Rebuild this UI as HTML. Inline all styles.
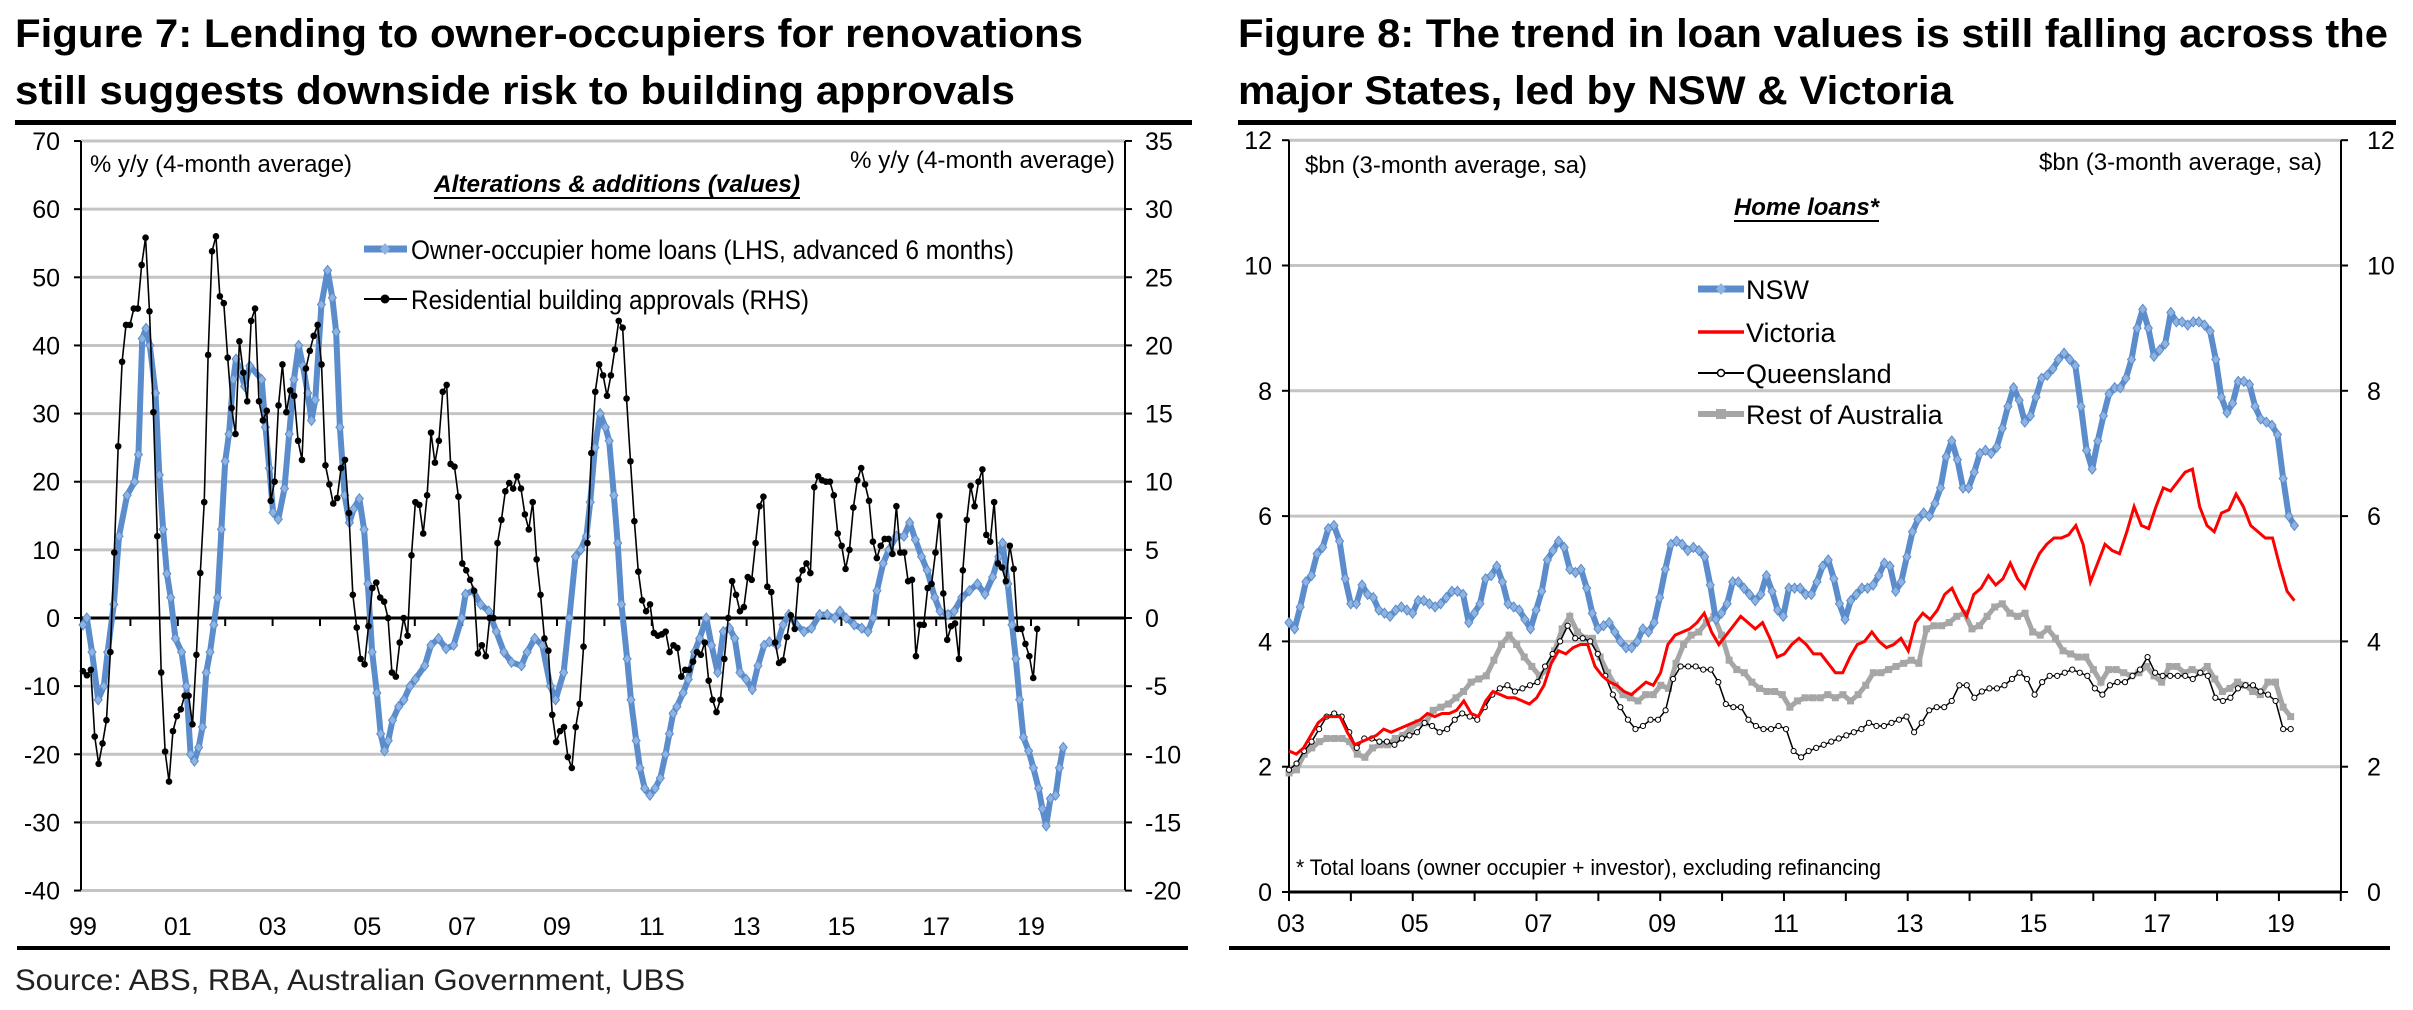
<!DOCTYPE html>
<html><head><meta charset="utf-8"><style>
html,body{margin:0;padding:0;background:#fff;}
svg{display:block;font-family:"Liberation Sans",Arial,sans-serif;}
</style></head><body>
<svg id="root" width="2413" height="1010" viewBox="0 0 2413 1010">
<g font-weight="bold" font-size="40" fill="#000">
<text x="15" y="47" textLength="1068" lengthAdjust="spacingAndGlyphs">Figure 7: Lending to owner-occupiers for renovations</text>
<text x="15" y="104" textLength="1000" lengthAdjust="spacingAndGlyphs">still suggests downside risk to building approvals</text>
<text x="1238" y="47" textLength="1150" lengthAdjust="spacingAndGlyphs">Figure 8: The trend in loan values is still falling across the</text>
<text x="1238" y="104" textLength="715" lengthAdjust="spacingAndGlyphs">major States, led by NSW &amp; Victoria</text>
</g>
<rect x="15" y="120" width="1177" height="5" fill="#000"/>
<rect x="1238" y="120" width="1158" height="5" fill="#000"/>
<rect x="17" y="946" width="1171" height="4" fill="#000"/>
<rect x="1229" y="946" width="1161" height="4" fill="#000"/>
<text x="15" y="990" font-size="30" fill="#222" textLength="670" lengthAdjust="spacingAndGlyphs">Source: ABS, RBA, Australian Government, UBS</text>
<g id="c1"></g>
<g id="c2"></g>
</svg>
<script>
// ---------- Figure 7 data ----------
const f7LeftTicks = [70,60,50,40,30,20,10,0,-10,-20,-30,-40];
const f7RightTicks = [35,30,25,20,15,10,5,0,-5,-10,-15,-20];
const f7XLabels = ["99","01","03","05","07","09","11","13","15","17","19"];
const blueYears = [1999.00,1999.08,1999.19,1999.32,1999.44,1999.52,1999.65,1999.76,1999.93,2000.09,2000.17,2000.25,2000.33,2000.41,2000.53,2000.61,2000.69,2000.77,2000.85,2000.95,2001.08,2001.18,2001.27,2001.35,2001.44,2001.52,2001.60,2001.68,2001.76,2001.84,2001.92,2002.00,2002.08,2002.17,2002.23,2002.33,2002.41,2002.52,2002.77,2002.85,2002.93,2003.01,2003.12,2003.25,2003.35,2003.45,2003.55,2003.64,2003.74,2003.82,2003.90,2004.03,2004.16,2004.26,2004.34,2004.42,2004.52,2004.62,2004.71,2004.83,2004.93,2005.01,2005.10,2005.20,2005.28,2005.36,2005.44,2005.53,2005.66,2005.77,2005.90,2006.01,2006.21,2006.34,2006.50,2006.66,2006.82,2006.99,2007.07,2007.23,2007.39,2007.56,2007.72,2007.88,2008.04,2008.25,2008.37,2008.53,2008.69,2008.86,2008.97,2009.14,2009.26,2009.39,2009.50,2009.62,2009.70,2009.80,2009.91,2010.02,2010.10,2010.20,2010.28,2010.36,2010.48,2010.56,2010.67,2010.75,2010.85,2010.96,2011.07,2011.18,2011.29,2011.37,2011.45,2011.53,2011.66,2011.77,2011.90,2012.01,2012.15,2012.26,2012.39,2012.51,2012.64,2012.75,2012.86,2012.99,2013.12,2013.24,2013.37,2013.48,2013.64,2013.77,2013.89,2014.05,2014.21,2014.37,2014.54,2014.70,2014.86,2014.97,2015.10,2015.27,2015.43,2015.56,2015.67,2015.75,2015.88,2016.00,2016.16,2016.32,2016.44,2016.56,2016.69,2016.81,2016.97,2017.08,2017.25,2017.38,2017.54,2017.70,2017.87,2018.03,2018.19,2018.32,2018.40,2018.51,2018.60,2018.68,2018.76,2018.84,2018.95,2019.05,2019.16,2019.24,2019.32,2019.41,2019.52,2019.60,2019.68];
const blueValues = [-1,0,-5,-12,-10,-5,2,12,18,20,24,41,42.5,40,33,21,13,6.5,3,-3,-5,-10,-20,-21,-19,-16,-8,-5,-1,3,13,23,27,35,38,36,34,37,35,28,22,15.5,14.5,19,27,35,40,37,33,29,32,46,51,47,42,28,18,14,16,17.5,13,5,-5,-11,-17,-19.5,-18,-15,-13,-12,-10,-9,-7,-4,-3,-4.5,-4,0,3.5,4,2,1,-2,-5,-6.5,-7,-5,-3,-4,-10,-12,-8,0,9,10,12,17,25,30,28,26,18,11,2,-6,-12,-18,-22,-25,-26,-25,-23.5,-20,-17,-14,-13,-11,-9,-5,-3,0,-4,-8,-2,-1.5,-3,-8,-9,-10.5,-7,-4,-3.5,-4,-1,0.5,-1,-2,-1.5,0.5,0.5,0,1,0,-1,-1.5,-2,0,4,8,10,12,12,14,11.5,9,7,3,1,0.5,1,3,4,5,3.5,6,9,11,5,-1,-6,-12,-17.5,-19.5,-22,-25,-28,-30.5,-26.5,-26,-22,-19];
const blackStart = 1999.0;
const blackEnd = 2019.13;
const blackValues = [-3.9,-4.2,-3.8,-8.7,-10.7,-9.2,-7.5,-2.5,4.8,12.6,18.8,21.5,21.5,22.7,22.7,25.9,27.9,22.5,15.1,6,-4,-9.8,-12,-8.3,-7.2,-6.7,-5.7,-5.7,-7.8,-2.7,3.3,8.5,19.3,26.9,28,23.6,23.1,19.1,15.4,13.5,20.3,18,15.9,21.8,22.7,15.9,14.5,15.2,8.6,10,15.6,18.6,15.1,16.7,16.3,13,11.6,18.3,19.6,20.7,21.5,18.6,11.2,9.8,8.4,8.8,11,11.6,7.7,1.7,-0.7,-3,-3.4,-0.6,2.2,2.6,1.5,1.2,0,-4,-4.3,-1.8,0,-1.3,4.6,8.5,8.3,6.2,9,13.6,11.4,13,16.6,17.1,11.3,11.1,8.9,4,3.5,2.8,2,-2.6,-2,-2.8,0,0,5.5,7.2,9.3,9.9,9.5,10.4,9.5,7.6,6.5,8.5,4.3,1.7,-1.5,-2.4,-7.1,-9.1,-8.3,-8,-10.2,-11,-8,-6.3,-2.1,5.5,12.1,16.6,18.6,17.8,16.3,17.8,19.7,21.8,21.3,16.1,11.5,7.1,3.4,1.3,0.5,1,-1.1,-1.3,-1.2,-1,-2.5,-2,-2.2,-4.3,-3.8,-3.8,-3.2,-2.5,-2.7,-1.8,-4.6,-6,-6.9,-6,-3,0,2.7,1.7,0.5,0.8,3,2.8,5.5,8.2,8.9,2.3,1.9,-1.8,-3.3,-3.1,-1.4,0.2,-0.8,2.8,3.5,4,3.3,9.6,10.4,10.1,10,10,9,6.2,5.3,3.6,5,8.1,10.1,11,9.8,8.6,5.6,4.4,5.3,5.8,5.8,4.7,8.2,4.8,4.8,2.7,2.8,-2.8,-0.5,-0.5,2.2,2.5,4.8,7.5,1.8,-1.6,-0.6,-0.4,-3,3.5,7.2,9.7,8.2,10,10.9,6.1,5.6,8.5,4,3.7,2.7,5.3,3.6,-0.8,-0.8,-1.9,-2.8,-4.4,-0.8];

// ---------- Figure 8 data ----------
const f8Ticks = [12,10,8,6,4,2,0];
const f8XLabels = ["03","05","07","09","11","13","15","17","19"];
const nswStart = 2003.0, nswEnd = 2019.25;
const nswValues = [4.3,4.2,4.55,4.95,5.05,5.4,5.5,5.8,5.85,5.6,5.0,4.6,4.6,4.9,4.75,4.7,4.5,4.45,4.4,4.5,4.55,4.5,4.45,4.65,4.65,4.6,4.55,4.6,4.7,4.8,4.8,4.75,4.3,4.45,4.6,5.0,5.05,5.2,4.95,4.6,4.55,4.5,4.35,4.2,4.5,4.8,5.3,5.45,5.6,5.5,5.15,5.1,5.15,4.85,4.45,4.2,4.25,4.3,4.15,4.0,3.9,3.9,4.0,4.2,4.15,4.3,4.7,5.15,5.55,5.6,5.55,5.45,5.5,5.45,5.35,4.9,4.35,4.45,4.6,4.95,4.95,4.85,4.75,4.65,4.75,5.05,4.8,4.5,4.4,4.85,4.85,4.85,4.75,4.75,4.95,5.2,5.3,5.0,4.6,4.35,4.65,4.75,4.85,4.85,4.9,5.05,5.25,5.2,4.8,4.95,5.35,5.75,5.95,6.05,6.0,6.2,6.45,6.95,7.2,6.9,6.45,6.45,6.7,7.0,7.05,7.0,7.1,7.4,7.75,8.05,7.85,7.5,7.6,7.9,8.2,8.25,8.35,8.5,8.6,8.5,8.4,7.75,7.05,6.75,7.2,7.6,7.95,8.05,8.05,8.2,8.5,9.0,9.3,9.0,8.55,8.65,8.75,9.25,9.1,9.1,9.05,9.1,9.1,9.05,8.95,8.5,7.9,7.65,7.8,8.15,8.15,8.1,7.75,7.55,7.5,7.45,7.3,6.6,6.0,5.85];
const vicStart = 2003.0, vicEnd = 2019.25;
const vicValues = [2.25,2.2,2.3,2.5,2.7,2.8,2.8,2.8,2.55,2.35,2.4,2.45,2.5,2.6,2.55,2.6,2.65,2.7,2.75,2.85,2.8,2.85,2.85,2.9,3.05,2.85,2.8,3.05,3.2,3.15,3.1,3.1,3.05,3.0,3.1,3.3,3.65,3.85,3.8,3.9,3.95,3.95,3.6,3.45,3.35,3.3,3.2,3.15,3.25,3.35,3.3,3.5,3.95,4.1,4.15,4.2,4.3,4.45,4.15,3.95,4.1,4.25,4.4,4.3,4.2,4.3,4.05,3.75,3.8,3.95,4.05,3.95,3.8,3.8,3.65,3.5,3.5,3.75,3.95,4.0,4.15,4.0,3.9,3.95,4.05,3.85,4.3,4.45,4.35,4.5,4.75,4.85,4.6,4.4,4.75,4.85,5.05,4.9,5.0,5.25,5.0,4.85,5.15,5.4,5.55,5.65,5.65,5.7,5.85,5.55,4.95,5.25,5.55,5.45,5.4,5.75,6.15,5.85,5.8,6.15,6.45,6.4,6.55,6.7,6.75,6.15,5.85,5.75,6.05,6.1,6.35,6.15,5.85,5.75,5.65,5.65,5.2,4.8,4.65];
const qldStart = 2003.0, qldEnd = 2019.19;
const qldValues = [1.95,2.05,2.25,2.4,2.6,2.8,2.85,2.8,2.55,2.3,2.45,2.45,2.4,2.4,2.35,2.45,2.5,2.55,2.7,2.65,2.55,2.6,2.75,2.85,2.8,2.75,2.95,3.15,3.25,3.3,3.2,3.25,3.3,3.35,3.6,3.8,4.0,4.25,4.05,4.05,4.0,3.8,3.45,3.15,2.95,2.75,2.6,2.65,2.75,2.75,2.9,3.4,3.6,3.6,3.6,3.55,3.55,3.35,3.0,2.95,2.95,2.75,2.65,2.6,2.6,2.65,2.6,2.25,2.15,2.25,2.3,2.35,2.4,2.45,2.5,2.55,2.6,2.7,2.65,2.65,2.7,2.75,2.8,2.55,2.7,2.9,2.95,2.95,3.05,3.3,3.3,3.1,3.2,3.25,3.25,3.3,3.4,3.5,3.4,3.15,3.35,3.45,3.45,3.5,3.55,3.5,3.45,3.25,3.15,3.3,3.35,3.35,3.45,3.55,3.75,3.5,3.45,3.45,3.45,3.45,3.4,3.5,3.45,3.1,3.05,3.1,3.25,3.3,3.3,3.2,3.15,3.05,2.6,2.6];
const restStart = 2003.0, restEnd = 2019.19;
const restValues = [1.9,1.95,2.2,2.3,2.4,2.45,2.45,2.45,2.4,2.2,2.15,2.3,2.35,2.35,2.45,2.5,2.6,2.7,2.7,2.9,2.95,3.0,3.1,3.2,3.35,3.4,3.45,3.7,3.95,4.1,3.95,3.75,3.6,3.45,3.55,3.85,4.2,4.4,4.15,4.05,4.05,3.75,3.5,3.3,3.15,3.1,3.05,3.15,3.15,3.3,3.25,3.65,3.95,4.1,4.15,4.3,4.4,4.1,3.7,3.55,3.5,3.35,3.25,3.2,3.2,3.15,2.95,3.05,3.1,3.1,3.1,3.15,3.1,3.15,3.05,3.15,3.3,3.5,3.5,3.55,3.6,3.65,3.7,3.65,4.2,4.25,4.25,4.3,4.4,4.45,4.2,4.25,4.4,4.55,4.6,4.45,4.4,4.45,4.15,4.1,4.2,4.05,3.85,3.8,3.75,3.75,3.55,3.35,3.55,3.55,3.5,3.45,3.5,3.6,3.45,3.35,3.6,3.6,3.5,3.55,3.5,3.6,3.4,3.2,3.25,3.35,3.3,3.2,3.15,3.35,3.35,2.95,2.8];

const NS = "http://www.w3.org/2000/svg";
function mk(parent, tag, attrs){const e=document.createElementNS(NS,tag);for(const k in attrs)e.setAttribute(k,attrs[k]);parent.appendChild(e);return e;}
function txt(parent, s, attrs){const e=mk(parent,'text',attrs);e.textContent=s;return e;}
function spread(a,b,n){const r=[];for(let i=0;i<n;i++)r.push(n===1?a:a+(b-a)*i/(n-1));return r;}

// ---------- Figure 7 ----------
(function(){
  const g=document.getElementById('c1');
  const xL=81,xR=1125,yTop=141,yBot=890;
  const X=y=>83+(y-1999)*47.4;
  const YL=v=>618-v*6.814;
  const YR=v=>618-v*13.63;
  f7LeftTicks.forEach(t=>{
    if(t!==0&&t!==-40){const l=mk(g,'line',{x1:xL,x2:xR,y1:YL(t),y2:YL(t),stroke:'#c4c4c4','stroke-width':3});
    
    }
    if(t===-40){const l=mk(g,'line',{x1:xL,x2:xR,y1:YL(t),y2:YL(t),stroke:'#c4c4c4','stroke-width':3});
    
    }
    mk(g,'line',{x1:xL-7,x2:xL,y1:YL(t),y2:YL(t),stroke:'#000','stroke-width':2});
    const tx=txt(g,String(t),{x:60,y:YL(t)+9,'text-anchor':'end','font-size':25});
    
    
  });
  f7RightTicks.forEach(t=>{
    mk(g,'line',{x1:xR,x2:xR+7,y1:YR(t),y2:YR(t),stroke:'#000','stroke-width':2});
    const tx=txt(g,String(t),{x:1145,y:YR(t)+9,'font-size':25});
    
    
  });
  const la=mk(g,'line',{x1:xL,x2:xL,y1:yTop,y2:yBot,stroke:'#000','stroke-width':2});
  
  
  const ra=mk(g,'line',{x1:xR,x2:xR,y1:yTop,y2:yBot,stroke:'#000','stroke-width':2});
  
  
  const z=mk(g,'line',{x1:xL,x2:xR,y1:YL(0),y2:YL(0),stroke:'#000','stroke-width':3});
  
  
  for(let yr=1999;yr<=2020;yr++){mk(g,'line',{x1:X(yr),x2:X(yr),y1:YL(0),y2:YL(0)+8,stroke:'#000','stroke-width':2});}
  f7XLabels.forEach((s,i)=>{const tx=txt(g,s,{x:X(1999+2*i),y:935,'text-anchor':'middle','font-size':25});
    
    });
  // blue series
  const bp=blueYears.map((y,i)=>X(y)+','+YL(blueValues[i])).join(' ');
  const bl=mk(g,'polyline',{points:bp,fill:'none',stroke:'#5b8ccc','stroke-width':6,'stroke-linejoin':'round'});
  
  
  blueYears.forEach((y,i)=>{const cx=X(y),cy=YL(blueValues[i]);
    mk(g,'polygon',{points:`${cx},${cy-5} ${cx+4},${cy} ${cx},${cy+5} ${cx-4},${cy}`,fill:'#8fb3e0',stroke:'#5b8ccc','stroke-width':1});});
  // black series
  const bx=spread(blackStart,blackEnd,blackValues.length);
  const kp=bx.map((y,i)=>X(y)+','+YR(blackValues[i])).join(' ');
  const kl=mk(g,'polyline',{points:kp,fill:'none',stroke:'#000','stroke-width':1.6});
  
  
  bx.forEach((y,i)=>{mk(g,'circle',{cx:X(y),cy:YR(blackValues[i]),r:3.3,fill:'#000'});});
  // labels
  const a=txt(g,'% y/y (4-month average)',{x:90,y:172,'font-size':24,textLength:262,lengthAdjust:'spacingAndGlyphs'});
  
  
  const b=txt(g,'% y/y (4-month average)',{x:1115,y:168,'text-anchor':'end','font-size':24,textLength:265,lengthAdjust:'spacingAndGlyphs'});
  
  
  const c=txt(g,'Alterations & additions (values)',{x:434,y:192,'font-size':24,'font-weight':'bold','font-style':'italic',textLength:366,lengthAdjust:'spacingAndGlyphs'});
  
  
  mk(g,'line',{x1:434,x2:800,y1:198,y2:198,stroke:'#000','stroke-width':2});
  const lg=mk(g,'g',{});
  
  
  mk(lg,'line',{x1:364,x2:407,y1:249,y2:249,stroke:'#5b8ccc','stroke-width':7});
  mk(lg,'polygon',{points:'385,243 390,249 385,255 380,249',fill:'#8fb3e0'});
  const t1=txt(lg,'Owner-occupier home loans (LHS, advanced 6 months)',{x:411,y:259,'font-size':27,textLength:603,lengthAdjust:'spacingAndGlyphs'});
  
  
  mk(lg,'line',{x1:364,x2:407,y1:299,y2:299,stroke:'#000','stroke-width':2});
  mk(lg,'circle',{cx:385,cy:299,r:4.5,fill:'#000'});
  const t2=txt(lg,'Residential building approvals (RHS)',{x:411,y:309,'font-size':27,textLength:398,lengthAdjust:'spacingAndGlyphs'});
  
  
})();

// ---------- Figure 8 ----------
(function(){
  const g=document.getElementById('c2');
  const xL=1289,xR=2341;
  const X=y=>1289+(y-2003)*61.87;
  const Y=v=>892-v*62.65;
  f8Ticks.forEach(t=>{
    if(t!==0){const l=mk(g,'line',{x1:xL,x2:xR,y1:Y(t),y2:Y(t),stroke:'#c4c4c4','stroke-width':3});
    
    }
    mk(g,'line',{x1:xL-7,x2:xL,y1:Y(t),y2:Y(t),stroke:'#000','stroke-width':2});
    mk(g,'line',{x1:xR,x2:xR+7,y1:Y(t),y2:Y(t),stroke:'#000','stroke-width':2});
    const a=txt(g,String(t),{x:1272,y:Y(t)+9,'text-anchor':'end','font-size':25});
    
    
    const b=txt(g,String(t),{x:2367,y:Y(t)+9,'font-size':25});
    
    
  });
  const la=mk(g,'line',{x1:xL,x2:xL,y1:Y(12),y2:Y(0),stroke:'#000','stroke-width':2});
  
  
  const ra=mk(g,'line',{x1:xR,x2:xR,y1:Y(12),y2:Y(0),stroke:'#000','stroke-width':2});
  
  
  const xa=mk(g,'line',{x1:xL,x2:xR,y1:Y(0),y2:Y(0),stroke:'#000','stroke-width':3});
  
  
  for(let yr=2003;yr<=2020;yr++){mk(g,'line',{x1:X(yr),x2:X(yr),y1:Y(0),y2:Y(0)+9,stroke:'#000','stroke-width':2});}
  f8XLabels.forEach((s,i)=>{const tx=txt(g,s,{x:X(2003+2*i)+2,y:932,'text-anchor':'middle','font-size':25});
    
    });
  function series(start,end,vals,name){return spread(start,end,vals.length).map((y,i)=>[X(y),Y(vals[i])]);}
  // Rest of Australia
  const rp=series(restStart,restEnd,restValues);
  const r=mk(g,'polyline',{points:rp.map(p=>p.join(',')).join(' '),fill:'none',stroke:'#a6a6a6','stroke-width':5});
  
  
  rp.forEach(p=>mk(g,'rect',{x:p[0]-3.5,y:p[1]-3.5,width:7,height:7,fill:'#a6a6a6'}));
  // Queensland
  const qp=series(qldStart,qldEnd,qldValues);
  const q=mk(g,'polyline',{points:qp.map(p=>p.join(',')).join(' '),fill:'none',stroke:'#000','stroke-width':1.5});
  
  
  qp.forEach(p=>mk(g,'circle',{cx:p[0],cy:p[1],r:2.6,fill:'#fff',stroke:'#000','stroke-width':1}));
  // Victoria
  const vp=series(vicStart,vicEnd,vicValues);
  const v=mk(g,'polyline',{points:vp.map(p=>p.join(',')).join(' '),fill:'none',stroke:'#ff0000','stroke-width':3});
  
  
  // NSW
  const np=series(nswStart,nswEnd,nswValues);
  const n=mk(g,'polyline',{points:np.map(p=>p.join(',')).join(' '),fill:'none',stroke:'#5b8ccc','stroke-width':6,'stroke-linejoin':'round'});
  
  
  np.forEach(p=>mk(g,'polygon',{points:`${p[0]},${p[1]-5} ${p[0]+4},${p[1]} ${p[0]},${p[1]+5} ${p[0]-4},${p[1]}`,fill:'#8fb3e0',stroke:'#5b8ccc','stroke-width':1}));
  // texts
  const a=txt(g,'$bn (3-month average, sa)',{x:1305,y:173,'font-size':24,textLength:282,lengthAdjust:'spacingAndGlyphs'});
  
  
  const b=txt(g,'$bn (3-month average, sa)',{x:2322,y:170,'text-anchor':'end','font-size':24,textLength:283,lengthAdjust:'spacingAndGlyphs'});
  
  
  const c=txt(g,'Home loans*',{x:1734,y:215,'font-size':24,'font-weight':'bold','font-style':'italic',textLength:145,lengthAdjust:'spacingAndGlyphs'});
  
  
  mk(g,'line',{x1:1734,x2:1879,y1:221,y2:221,stroke:'#000','stroke-width':2});
  const f=txt(g,'* Total loans (owner occupier + investor), excluding refinancing',{x:1296,y:875,'font-size':22,textLength:585,lengthAdjust:'spacingAndGlyphs'});
  
  
  const lg=mk(g,'g',{});
  
  
  const items=[['NSW','#5b8ccc',7,289,'nsw'],['Victoria','#ff0000',3.5,332,'victoria'],['Queensland','#000',2,373,'queensland'],['Rest of Australia','#a6a6a6',6,414,'rest-of-australia']];
  items.forEach(it=>{
    mk(lg,'line',{x1:1698,x2:1744,y1:it[3],y2:it[3],stroke:it[1],'stroke-width':it[2]});
    if(it[4]==='nsw')mk(lg,'polygon',{points:`1721,${it[3]-6} 1726,${it[3]} 1721,${it[3]+6} 1716,${it[3]}`,fill:'#8fb3e0'});
    if(it[4]==='queensland')mk(lg,'circle',{cx:1721,cy:it[3],r:3.5,fill:'#fff',stroke:'#000','stroke-width':1.5});
    if(it[4]==='rest-of-australia')mk(lg,'rect',{x:1716,y:it[3]-5,width:10,height:10,fill:'#a6a6a6'});
    const t=txt(lg,it[0],{x:1746,y:it[3]+10,'font-size':27});
    
    
  });
})();
</script>
</body></html>
